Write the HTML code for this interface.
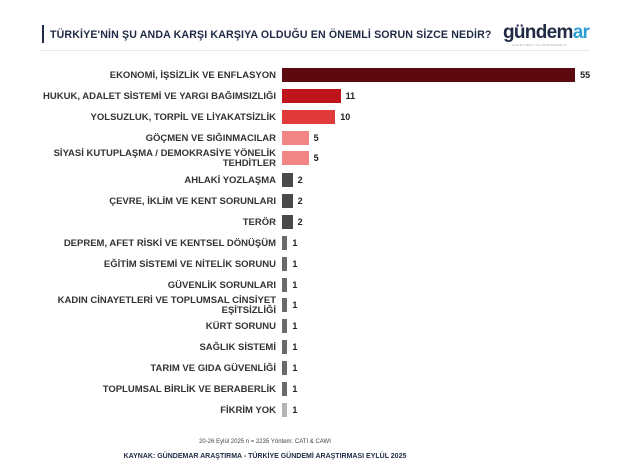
<!DOCTYPE html><html><head><meta charset="utf-8"><style>
body{margin:0;width:627px;height:474px;background:#fff;font-family:"Liberation Sans",sans-serif;position:relative;overflow:hidden}
.t{position:absolute;left:50px;top:29px;font-size:10.6px;font-weight:bold;color:#1f2a44;letter-spacing:0.15px}
.vb{position:absolute;left:42px;top:25px;width:2px;height:18px;background:#1f2a44}
.hr{position:absolute;left:40px;top:50px;width:550px;height:1px;background:#e8e8e8}
.logo{position:absolute;left:503px;top:22px;font-size:19px;font-weight:bold;color:#1f2a44;letter-spacing:-0.7px}
.logo span{color:#2e9fd6}
.ls{position:absolute;left:512px;top:43px;font-size:3px;color:#999;letter-spacing:0.5px}
.r{position:absolute;left:0;width:627px;height:21px}
.l{position:absolute;right:351px;width:300px;text-align:right;font-size:9.5px;font-weight:bold;color:#333;line-height:10px;top:50%;transform:translateY(-50%)}
.b{position:absolute;left:282px;top:3px;height:14px}
.v{position:absolute;top:5px;font-size:9px;font-weight:bold;color:#222}
.f1{position:absolute;top:439px;left:0;width:530px;text-align:center;font-size:6px;color:#444}
.f2{position:absolute;top:453px;left:0;width:530px;text-align:center;font-size:7px;font-weight:bold;color:#1f2a44}
</style></head><body>
<div class="vb"></div><div class="t">TÜRKİYE'NİN ŞU ANDA KARŞI KARŞIYA OLDUĞU EN ÖNEMLİ SORUN SİZCE NEDİR?</div>
<div class="logo">gündem<span>ar</span></div><div class="ls">ARAŞTIRMA VE DANIŞMANLIK</div>
<div class="hr"></div>
<div id="c"></div>
<div class="f1">20-26 Eylül 2025 n = 2235 Yöntem: CATI &amp; CAWI</div>
<div class="f2">KAYNAK: GÜNDEMAR ARAŞTIRMA - TÜRKİYE GÜNDEMİ ARAŞTIRMASI EYLÜL 2025</div>
<script>
var d=[["EKONOMİ, İŞSİZLİK VE ENFLASYON",55,"#5c0a10",65],["HUKUK, ADALET SİSTEMİ VE YARGI BAĞIMSIZLIĞI",11,"#c0141c",86],["YOLSUZLUK, TORPİL VE LİYAKATSİZLİK",10,"#e03a3a",107],["GÖÇMEN VE SIĞINMACILAR",5,"#f28585",128],["SİYASİ KUTUPLAŞMA / DEMOKRASİYE YÖNELİK<br>TEHDİTLER",5,"#f28585",148],["AHLAKİ YOZLAŞMA",2,"#4a4a4a",170],["ÇEVRE, İKLİM VE KENT SORUNLARI",2,"#4a4a4a",191],["TERÖR",2,"#4a4a4a",212],["DEPREM, AFET RİSKİ VE KENTSEL DÖNÜŞÜM",1,"#6a6a6a",233],["EĞİTİM SİSTEMİ VE NİTELİK SORUNU",1,"#6a6a6a",254],["GÜVENLİK SORUNLARI",1,"#6a6a6a",275],["KADIN CİNAYETLERİ VE TOPLUMSAL CİNSİYET<br>EŞİTSİZLİĞİ",1,"#6a6a6a",295],["KÜRT SORUNU",1,"#6a6a6a",316],["SAĞLIK SİSTEMİ",1,"#6a6a6a",337],["TARIM VE GIDA GÜVENLİĞİ",1,"#6a6a6a",358],["TOPLUMSAL BİRLİK VE BERABERLİK",1,"#6a6a6a",379],["FİKRİM YOK",1,"#b5b5b5",400]];
var h="";d.forEach(function(r){var w=Math.max(5,r[1]*5.33);h+='<div class="r" style="top:'+r[3]+'px"><div class="l">'+r[0]+'</div><div class="b" style="width:'+w+'px;background:'+r[2]+'"></div><div class="v" style="left:'+(282+w+5)+'px">'+r[1]+'</div></div>';});
document.getElementById("c").innerHTML=h;
</script></body></html>
